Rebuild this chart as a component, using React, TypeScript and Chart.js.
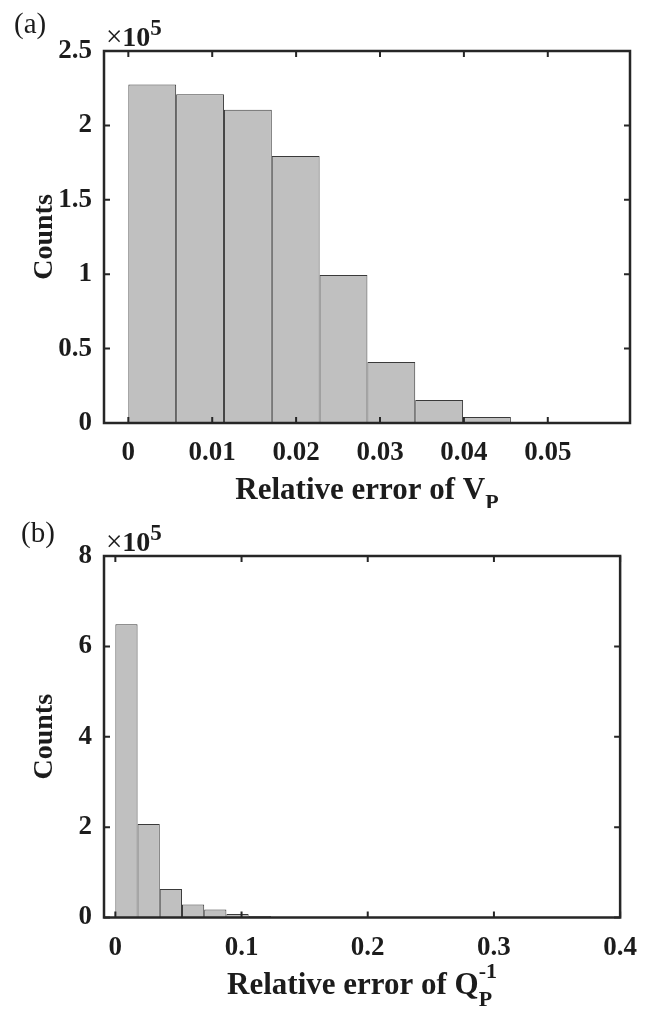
import React, { useEffect, useRef } from 'react';
import { Chart, registerables } from 'chart.js';

Chart.register(...registerables);

// (a) histogram of the relative error of V_P
const vpBinEdges = [0, 0.0057, 0.0114, 0.0171, 0.0228, 0.0285, 0.0342, 0.0399, 0.0456];
const vpCounts = [227500, 221000, 210500, 179500, 99500, 41000, 15500, 4000];
const vpXTicks = [0, 0.01, 0.02, 0.03, 0.04, 0.05];
const vpXTickLabels = ['0', '0.01', '0.02', '0.03', '0.04', '0.05'];
const vpYTicks = [0, 50000, 100000, 150000, 200000, 250000];
const vpYTickLabels = ['0', '0.5', '1', '1.5', '2', '2.5'];

// (b) histogram of the relative error of Q_P^-1
const qpBinEdges = [0, 0.0176, 0.0352, 0.0528, 0.0704, 0.088, 0.1056, 0.1232];
const qpCounts = [649000, 207000, 63000, 28500, 17500, 7500, 3500];
const qpXTicks = [0, 0.1, 0.2, 0.3, 0.4];
const qpXTickLabels = ['0', '0.1', '0.2', '0.3', '0.4'];
const qpYTicks = [0, 200000, 400000, 600000, 800000];
const qpYTickLabels = ['0', '2', '4', '6', '8'];

const SERIF = "'Liberation Serif', 'Times New Roman', serif";
const INK = '#1c1c1c';
const CANVAS_W = 651;
const CANVAS_H = 508;

type Part = { text: string; size: number; bold: boolean; dy: number; stack?: Part };

type PanelSpec = {
  edges: number[];
  counts: number[];
  xTicks: number[];
  xTickLabels: string[];
  yTicks: number[];
  yTickLabels: string[];
  xMin: number;
  xMax: number;
  yMax: number;
  padTop: number;
  plotBottom: number;
  panelLabel: string;
  panelLabelX: number;
  panelLabelY: number;
  xTitle: Part[];
};

const fontOf = (p: Part) => `${p.bold ? 'bold ' : ''}${p.size}px ${SERIF}`;

// Centered run of text pieces; a piece may carry a stacked companion
// (superscript over subscript) that shares its x position.
function drawParts(ctx: CanvasRenderingContext2D, parts: Part[], cx: number, baseline: number) {
  const widthOf = (p: Part) => {
    ctx.font = fontOf(p);
    let w = ctx.measureText(p.text).width;
    if (p.stack) {
      ctx.font = fontOf(p.stack);
      w = Math.max(w, ctx.measureText(p.stack.text).width);
    }
    return w;
  };
  const total = parts.reduce((s, p) => s + widthOf(p), 0);
  let x = cx - total / 2;
  ctx.textBaseline = 'alphabetic';
  ctx.textAlign = 'left';
  ctx.fillStyle = INK;
  for (const p of parts) {
    const w = widthOf(p);
    ctx.font = fontOf(p);
    ctx.fillText(p.text, x, baseline + p.dy);
    if (p.stack) {
      ctx.font = fontOf(p.stack);
      ctx.fillText(p.stack.text, x, baseline + p.stack.dy);
    }
    x += w;
  }
}

function drawPartsLeft(ctx: CanvasRenderingContext2D, parts: Part[], x0: number, baseline: number) {
  let x = x0;
  ctx.textAlign = 'left';
  ctx.textBaseline = 'alphabetic';
  ctx.fillStyle = INK;
  for (const p of parts) {
    ctx.font = fontOf(p);
    ctx.fillText(p.text, x, baseline + p.dy);
    x += ctx.measureText(p.text).width;
  }
}

function makeFramePlugin(spec: PanelSpec) {
  return {
    id: 'matlabFrame',
    afterDatasetsDraw(chart: any) {
      const { ctx, chartArea } = chart;
      const { left, right, top, bottom } = chartArea;
      const xs = chart.scales.x;
      const ys = chart.scales.y;
      ctx.save();
      ctx.strokeStyle = '#262626';
      ctx.lineWidth = 2.5;
      ctx.strokeRect(left, top, right - left, bottom - top);
      // inward tick marks on all four sides
      const tl = 6;
      ctx.lineWidth = 2;
      ctx.beginPath();
      for (const v of spec.xTicks) {
        const px = xs.getPixelForValue(v);
        ctx.moveTo(px, bottom);
        ctx.lineTo(px, bottom - tl);
        ctx.moveTo(px, top);
        ctx.lineTo(px, top + tl);
      }
      for (const v of spec.yTicks) {
        const py = ys.getPixelForValue(v);
        ctx.moveTo(left, py);
        ctx.lineTo(left + tl, py);
        ctx.moveTo(right, py);
        ctx.lineTo(right - tl, py);
      }
      ctx.stroke();

      // axis multiplier above the y axis
      drawPartsLeft(ctx, [
        { text: '\u00d7', size: 29, bold: false, dy: 0 },
        { text: '10', size: 28, bold: true, dy: 0 },
        { text: '5', size: 23, bold: true, dy: -11 },
      ], left + 2, top - 5);

      // x axis title
      drawParts(ctx, spec.xTitle, (left + right) / 2, bottom + 76);

      // panel label
      ctx.font = `29px ${SERIF}`;
      ctx.fillStyle = INK;
      ctx.textAlign = 'left';
      ctx.textBaseline = 'alphabetic';
      ctx.fillText(spec.panelLabel, spec.panelLabelX, spec.panelLabelY);
      ctx.restore();
    },
  };
}

function HistPanel({ spec }: { spec: PanelSpec }) {
  const ref = useRef<HTMLCanvasElement | null>(null);
  useEffect(() => {
    if (!ref.current) return;
    const data = spec.counts.map((c, i) => ({
      x: (spec.edges[i] + spec.edges[i + 1]) / 2,
      y: c,
    }));
    const chart = new Chart(ref.current, {
      type: 'bar',
      data: {
        datasets: [
          {
            data,
            backgroundColor: '#c0c0c0',
            borderColor: '#3a3a3a',
            borderWidth: 1,
            barPercentage: 1,
            categoryPercentage: 1,
            inflateAmount: 0,
          } as any,
        ],
      },
      options: {
        responsive: false,
        animation: false,
        devicePixelRatio: 1,
        layout: { padding: { left: 23, right: 21, top: spec.padTop, bottom: 0 } },
        plugins: { legend: { display: false }, tooltip: { enabled: false } },
        scales: {
          x: {
            type: 'linear',
            min: spec.xMin,
            max: spec.xMax,
            offset: false,
            grid: { display: false, drawTicks: false },
            border: { display: false },
            afterBuildTicks: (s: any) => {
              s.ticks = spec.xTicks.map((v) => ({ value: v }));
            },
            afterFit: (s: any) => {
              s.height = CANVAS_H - spec.plotBottom;
            },
            ticks: {
              autoSkip: false,
              maxRotation: 0,
              padding: 14,
              color: INK,
              font: { family: SERIF, size: 27, weight: 'bold' },
              callback: (_v: any, i: number) => spec.xTickLabels[i],
            },
          },
          y: {
            type: 'linear',
            min: 0,
            max: spec.yMax,
            grid: { display: false, drawTicks: false },
            border: { display: false },
            afterBuildTicks: (s: any) => {
              s.ticks = spec.yTicks.map((v) => ({ value: v }));
            },
            afterFit: (s: any) => {
              s.width = 81;
            },
            ticks: {
              padding: 12,
              color: INK,
              font: { family: SERIF, size: 27, weight: 'bold' },
              callback: (_v: any, i: number) => spec.yTickLabels[i],
            },
            title: {
              display: true,
              text: 'Counts',
              color: INK,
              padding: { top: 5, bottom: 4 },
              font: { family: SERIF, size: 28, weight: 'bold' },
            },
          },
        },
      } as any,
      plugins: [makeFramePlugin(spec)],
    });
    return () => chart.destroy();
  }, [spec]);
  return (
    <canvas
      ref={ref}
      width={CANVAS_W}
      height={CANVAS_H}
      style={{ display: 'block', width: CANVAS_W, height: CANVAS_H }}
    />
  );
}

const panelA: PanelSpec = {
  edges: vpBinEdges,
  counts: vpCounts,
  xTicks: vpXTicks,
  xTickLabels: vpXTickLabels,
  yTicks: vpYTicks,
  yTickLabels: vpYTickLabels,
  xMin: -0.0029,
  xMax: 0.0598,
  yMax: 250000,
  padTop: 51,
  plotBottom: 423,
  panelLabel: '(a)',
  panelLabelX: 14,
  panelLabelY: 33,
  xTitle: [
    { text: 'Relative error of V', size: 31, bold: true, dy: 0 },
    { text: 'P', size: 22, bold: true, dy: 10 },
  ],
};

const panelB: PanelSpec = {
  edges: qpBinEdges,
  counts: qpCounts,
  xTicks: qpXTicks,
  xTickLabels: qpXTickLabels,
  yTicks: qpYTicks,
  yTickLabels: qpYTickLabels,
  xMin: -0.009,
  xMax: 0.4,
  yMax: 800000,
  padTop: 48,
  plotBottom: 409.5,
  panelLabel: '(b)',
  panelLabelX: 21,
  panelLabelY: 34,
  xTitle: [
    { text: 'Relative error of Q', size: 31, bold: true, dy: 0 },
    {
      text: 'P',
      size: 22,
      bold: true,
      dy: 12,
      stack: { text: '-1', size: 22, bold: true, dy: -16 },
    },
  ],
};

export default function App() {
  return (
    <div
      style={{
        position: 'absolute',
        left: 0,
        top: 0,
        width: CANVAS_W,
        height: 1016,
        background: '#ffffff',
        overflow: 'hidden',
      }}
    >
      <HistPanel spec={panelA} />
      <HistPanel spec={panelB} />
    </div>
  );
}
